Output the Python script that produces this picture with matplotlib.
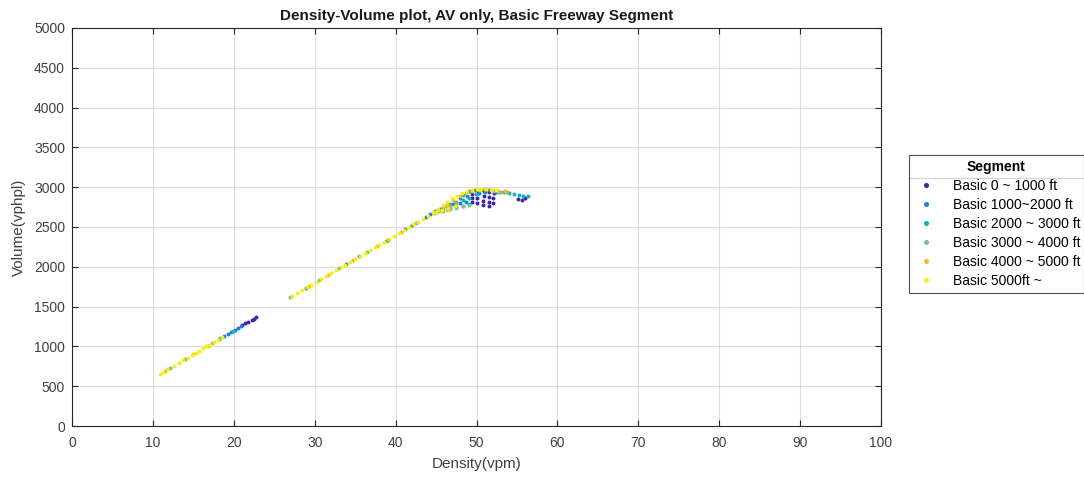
import matplotlib
matplotlib.use("Agg")
import matplotlib.pyplot as plt
from matplotlib.lines import Line2D

plt.rcParams['font.family'] = ['Liberation Sans', 'DejaVu Sans']

labels = ["Basic 0 ~ 1000 ft", "Basic 1000~2000 ft", "Basic 2000 ~ 3000 ft",
          "Basic 3000 ~ 4000 ft", "Basic 4000 ~ 5000 ft", "Basic 5000ft ~"]
colors = ["#3e26a8", "#1c7fdc", "#13b0c0", "#7fbf8c", "#f3b836", "#f5f014"]

d1 = [21.0, 21.4, 21.8, 22.2, 22.5, 22.7,
      49.4, 49.4, 49.5, 50.1, 50.1, 50.2, 50.8, 50.8, 50.9, 50.9,
      51.5, 51.5, 51.6, 51.6, 52.1, 52.1, 52.2, 55.1, 55.6, 56.0]
v1 = [1265, 1290, 1310, 1335, 1350, 1365,
      2820, 2870, 2920, 2800, 2860, 2930, 2780, 2830, 2890, 2950,
      2770, 2820, 2880, 2940, 2800, 2860, 2930, 2850, 2845, 2860]

d2 = [18.8, 19.3, 19.7, 20.1, 20.5, 20.9, 33.9, 39.0, 42.0, 43.8,
      44.3, 44.9, 45.5, 46.3, 47.1, 47.9, 48.0, 48.7, 48.8, 49.1, 49.8, 50.3, 51.1, 50.8, 51.6, 52.4]
v2 = [1130, 1160, 1185, 1208, 1232, 1255, 2035, 2340, 2520, 2628,
      2660, 2695, 2720, 2760, 2790, 2800, 2870, 2820, 2890, 2950, 2960, 2930, 2945, 2965, 2970, 2945]

d3 = [18.3, 19.9, 28.9, 35.5, 41.2,
      45.9, 46.7, 46.7, 47.5, 47.5, 48.3, 48.3, 48.3, 49.1, 49.1, 49.9,
      52.8, 53.4, 54.0, 54.6, 55.2, 55.8, 56.4]
v3 = [1100, 1195, 1735, 2130, 2472,
      2730, 2740, 2790, 2755, 2820, 2770, 2840, 2900, 2790, 2870, 2910,
      2945, 2935, 2925, 2915, 2905, 2895, 2885]

d4 = [12.1, 14.0, 17.3, 18.2, 27.0, 30.5, 33.0, 36.5, 38.8, 42.5,
      45.1, 45.9, 45.9, 46.7, 46.7, 47.5, 47.5, 48.3, 49.1, 52.2, 53.0, 53.8]
v4 = [728, 842, 1040, 1094, 1620, 1830, 1980, 2190, 2328, 2550,
      2690, 2705, 2750, 2720, 2770, 2740, 2800, 2760, 2780, 2955, 2945, 2935]

d5 = [11.5, 15.0, 16.8, 29.3, 31.7, 34.7, 37.7, 40.7,
      44.7, 45.5, 46.3, 46.3, 47.1, 47.9, 48.7, 49.5, 50.3, 51.1, 51.9, 52.7, 53.5]
v5 = [692, 902, 1010, 1758, 1902, 2082, 2262, 2442,
      2680, 2700, 2710, 2780, 2835, 2885, 2925, 2950, 2965, 2972, 2968, 2958, 2948]

d6 = [10.9, 11.3, 11.8, 12.6, 13.2, 13.7, 14.3, 14.8, 15.3, 15.7, 16.2, 16.6, 17.0, 17.5, 18.0, 18.6,
      27.2, 27.8, 28.4, 29.0, 29.6, 30.2, 30.8, 31.4, 32.0, 32.6, 33.2, 33.8, 34.4, 35.0, 35.6,
      36.2, 36.8, 37.4, 38.0, 38.6, 39.2, 39.8, 40.4, 41.0, 41.6, 42.2, 42.8, 43.4,
      44.0, 44.6, 45.2, 45.8, 46.4, 47.0, 47.6, 48.2, 48.8, 49.4, 50.0, 50.6, 51.2, 51.8, 52.4,
      45.0, 45.7, 46.5, 47.3]
v6 = [655, 680, 710, 758, 795, 825, 860, 890, 920, 945, 975, 1000, 1022, 1052, 1082, 1118,
      1632, 1668, 1704, 1740, 1776, 1812, 1848, 1884, 1920, 1956, 1992, 2028, 2064, 2100, 2136,
      2172, 2208, 2244, 2280, 2316, 2352, 2388, 2424, 2460, 2496, 2532, 2568, 2604,
      2640, 2685, 2730, 2775, 2820, 2860, 2895, 2925, 2948, 2962, 2972, 2976, 2975, 2970, 2962,
      2690, 2715, 2735, 2760]

series_d = [d1, d2, d3, d4, d5, d6]
series_v = [v1, v2, v3, v4, v5, v6]

fig = plt.figure(figsize=(10.84, 4.8), dpi=100)
ax = fig.add_axes([72/1084, 54/480, 809/1084, 398/480])

for dd, vv, c, lab in zip(series_d, series_v, colors, labels):
    ax.scatter(dd, vv, s=8, color=c, label=lab, linewidths=0, zorder=3)

ax.set_xlim(0, 100)
ax.set_ylim(0, 5000)
ax.set_xticks(range(0, 101, 10))
ax.set_yticks(range(0, 5001, 500))
ax.grid(True, color="#dcdcdc", linewidth=0.8)
ax.set_axisbelow(True)
ax.tick_params(direction="in", length=4, colors="#262626", labelsize=10,
               top=True, right=True, labelcolor="#404040")
ax.tick_params(axis="x", pad=7)
ax.tick_params(axis="y", pad=5)
for sp in ax.spines.values():
    sp.set_color("#262626")
    sp.set_linewidth(0.8)
ax.set_xlabel("Density(vpm)", fontsize=11, color="#404040", labelpad=5)
ax.set_ylabel("Volume(vphpl)", fontsize=11, color="#404040", labelpad=6)
ax.set_title("Density-Volume plot, AV only, Basic Freeway Segment",
             fontsize=11, fontweight="bold", color="#1a1a1a", pad=6)

handles = [Line2D([], [], marker='o', linestyle='none', markersize=2.6,
                  markerfacecolor=c, markeredgecolor=c) for c in colors]
x0 = 909/1084
leg = fig.legend(handles, labels, title="Segment", loc="upper left",
                 bbox_to_anchor=(x0, 1 - 297/480, 1 - x0, 142/480), mode="expand",
                 borderaxespad=0, fontsize=10, title_fontsize=10, frameon=True,
                 fancybox=False, edgecolor="#262626", handlelength=1.8,
                 handletextpad=1.0, labelspacing=0.36, borderpad=0.35)
leg.get_title().set_fontweight("bold")
leg.get_frame().set_linewidth(0.8)
fig.add_artist(Line2D([x0, 1.0], [1 - 178/480, 1 - 178/480],
                      transform=fig.transFigure, color="#262626", linewidth=0.8))

fig.savefig("out.png", dpi=100)
